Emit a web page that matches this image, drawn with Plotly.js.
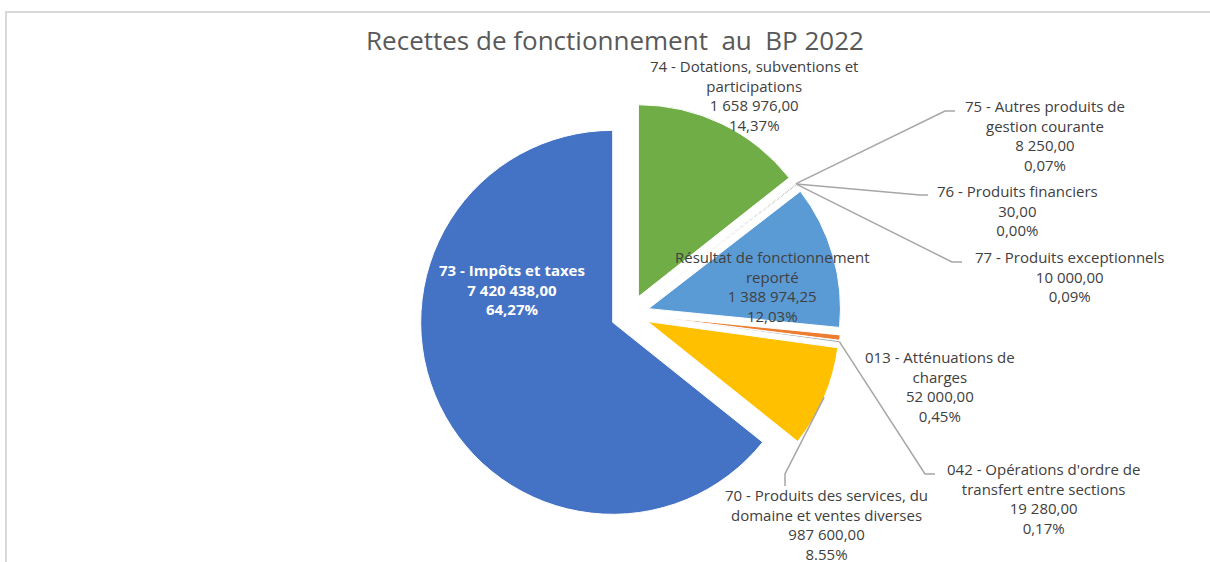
<!DOCTYPE html>
<html>
<head>
<meta charset="utf-8">
<script src="https://cdn.plot.ly/plotly-3.0.1.min.js"></script>
<style>
  html, body { margin: 0; padding: 0; background: #ffffff; }
  #chart { width: 1210px; height: 562px; }
</style>
</head>
<body>
<div id="chart"></div>
<script>
// ---- data (clockwise from 12 o'clock) ----
const categories = [
  '74 - Dotations, subventions et<br>participations',
  '75 - Autres produits de<br>gestion courante',
  '76 - Produits financiers',
  '77 - Produits exceptionnels',
  'Résultat de fonctionnement<br>reporté',
  '013 - Atténuations de<br>charges',
  "042 - Opérations d'ordre de<br>transfert entre sections",
  '70 - Produits des services, du<br>domaine et ventes diverses',
  '73 - Impôts et taxes'
];
const values = [1658976.00, 8250.00, 30.00, 10000.00, 1388974.25, 52000.00, 19280.00, 987600.00, 7420438.00];
const pctLabels = ['14,37%', '0,07%', '0,00%', '0,09%', '12,03%', '0,45%', '0,17%', '8.55%', '64,27%'];
const colors = ['#70AD47', '#264478', '#9E480E', '#636363', '#5B9BD5', '#ED7D31', '#A5A5A5', '#FFC000', '#4472C4'];

// ---- layout geometry (pixels) ----
const W = 1210, H = 562;
const CX = 630, CY = 314, R = 192, PULL = 0.1;
const box = 2 * R * (1 + PULL);
const dom = {
  x: [(CX - box / 2) / W, (CX + box / 2) / W],
  y: [1 - (CY + box / 2) / H, 1 - (CY - box / 2) / H]
};

// label placements: [center x, middle y] in px, leader [elbow, end] or null
const labelPos = [
  [754, 95], [1045, 135.5], [1017, 210], [1069, 276], [772, 286],
  [940, 386], [1043, 498], [826, 524], [512, 289]
];
const leaders = [
  null,
  [[945, 111], [955, 111]],
  [[920, 195], [928, 195]],
  [[952, 262], [962, 262]],
  null,
  null,
  [[925, 474], [935, 474]],
  [[785, 474], [785, 486]],
  null
];

function fr(v) {
  const s = v.toFixed(2).split('.');
  return s[0].replace(/\B(?=(\d{3})+(?!\d))/g, ' ') + ',' + s[1];
}
const px = x => x / W;
const py = y => 1 - y / H;
const FONT = '"Open Sans", Lato, sans-serif';

const total = values.reduce((a, b) => a + b, 0);
let cum = 0;
const annotations = [];
const shapes = [];
values.forEach((v, i) => {
  const a0 = cum / total * 2 * Math.PI;
  cum += v;
  const a1 = cum / total * 2 * Math.PI;
  const mid = (a0 + a1) / 2;
  const ox = CX + PULL * R * Math.sin(mid);
  const oy = CY - PULL * R * Math.cos(mid);
  const sx = ox + R * Math.sin(mid);
  const sy = oy - R * Math.cos(mid);
  const inside = (i === 8);
  annotations.push({
    xref: 'paper', yref: 'paper',
    x: px(labelPos[i][0]), y: py(labelPos[i][1]),
    xanchor: 'center', yanchor: 'middle', align: 'center',
    showarrow: false,
    text: (inside ? '<b>' : '') + categories[i] + '<br>' + fr(v) + '<br>' + pctLabels[i] + (inside ? '</b>' : ''),
    font: { family: FONT, size: 15, color: inside ? '#ffffff' : '#404040' }
  });
  if (leaders[i]) {
    const p = leaders[i];
    shapes.push({
      type: 'path', xref: 'paper', yref: 'paper',
      path: 'M' + px(sx) + ',' + py(sy) + ' L' + px(p[0][0]) + ',' + py(p[0][1]) + ' L' + px(p[1][0]) + ',' + py(p[1][1]),
      line: { color: '#A6A6A6', width: 1.5 }
    });
  }
});

// chart frame
shapes.push({
  type: 'rect', xref: 'paper', yref: 'paper',
  x0: px(6), x1: px(1216), y0: py(570), y1: py(12),
  line: { color: '#D9D9D9', width: 2 }, layer: 'below'
});

const trace = {
  type: 'pie',
  labels: categories,
  values: values,
  sort: false,
  direction: 'clockwise',
  rotation: 0,
  pull: values.map(() => PULL),
  marker: { colors: colors, line: { color: '#ffffff', width: 1 } },
  textinfo: 'none',
  hoverinfo: 'skip',
  domain: dom,
  showlegend: false
};

const layout = {
  width: W, height: H,
  margin: { l: 0, r: 0, t: 0, b: 0 },
  paper_bgcolor: '#ffffff',
  showlegend: false,
  title: {
    text: 'Recettes de fonctionnement\u00a0 au\u00a0 BP 2022',
    x: px(615), xanchor: 'center',
    y: py(41), yanchor: 'middle', yref: 'container', xref: 'paper',
    font: { family: FONT, size: 26, color: '#595959' }
  },
  annotations: annotations,
  shapes: shapes
};

Plotly.newPlot('chart', [trace], layout, { displayModeBar: false, staticPlot: true });
</script>
</body>
</html>
